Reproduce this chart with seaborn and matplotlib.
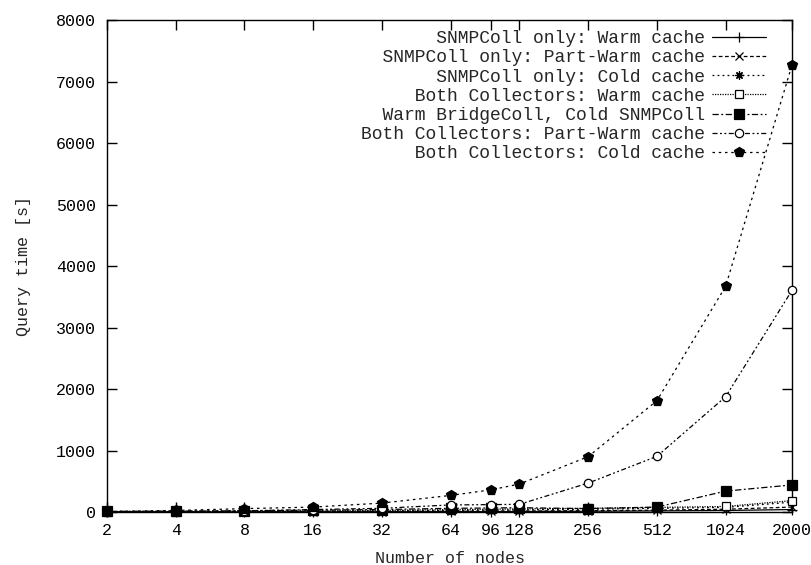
import matplotlib
matplotlib.use("Agg")
import matplotlib.pyplot as plt
import seaborn as sns
import numpy as np
import pandas as pd

nodes = [2, 4, 8, 16, 32, 64, 96, 128, 256, 512, 1024, 2000]
tick_labels = ["2", "4", "8", "16", "32", "64", "96", "128", "256", "512", "1024", "2000"]

snmp_warm = [1, 1, 2, 3, 4, 6, 7, 8, 12, 18, 25, 40]
snmp_part_warm = [2, 3, 4, 6, 8, 12, 14, 16, 22, 30, 45, 80]
snmp_cold = [3, 5, 8, 12, 18, 25, 30, 35, 45, 60, 75, 160]
both_warm = [4, 6, 10, 15, 25, 40, 45, 50, 60, 75, 90, 185]
warm_bridge_cold_snmp = [10, 15, 20, 30, 40, 60, 65, 70, 55, 80, 340, 440]
both_part_warm = [5, 10, 20, 40, 60, 115, 120, 125, 470, 905, 1875, 3605]
both_cold = [10, 25, 55, 80, 145, 270, 360, 455, 900, 1810, 3670, 7270]

labels = [
    "SNMPColl only: Warm cache",
    "SNMPColl only: Part-Warm cache",
    "SNMPColl only: Cold cache",
    "Both Collectors: Warm cache",
    "Warm BridgeColl, Cold SNMPColl",
    "Both Collectors: Part-Warm cache",
    "Both Collectors: Cold cache",
]
series = [snmp_warm, snmp_part_warm, snmp_cold, both_warm,
          warm_bridge_cold_snmp, both_part_warm, both_cold]

styles = [
    dict(ls="-", marker="+", ms=7, mfc="black"),
    dict(ls=(0, (3, 2)), marker="x", ms=6, mfc="black"),
    dict(ls=(0, (1.5, 2.5)), marker=(8, 2, 0), ms=6, mfc="black"),
    dict(ls=(0, (1, 1)), marker="s", ms=6, mfc="white"),
    dict(ls=(0, (5, 2, 1.5, 2)), marker="s", ms=6.5, mfc="black"),
    dict(ls=(0, (4, 2, 1.5, 2, 1.5, 2)), marker="o", ms=6, mfc="white"),
    dict(ls=(0, (2, 3)), marker="p", ms=7, mfc="black"),
]

sns.set_theme(style="ticks")
plt.rcParams["font.family"] = ["Liberation Mono", "DejaVu Sans Mono"]

fig = plt.figure(figsize=(8.12, 5.65), dpi=100)
ax = fig.add_axes([0.1318, 0.0938, 0.8436, 0.8708])

maxlen = max(len(l) for l in labels)
for lab, vals, st in zip(labels, series, styles):
    df = pd.DataFrame({"nodes": nodes, "time": vals})
    padded = " " * (maxlen - len(lab)) + lab
    sns.lineplot(data=df, x="nodes", y="time", ax=ax, color="black",
                 linestyle=st["ls"], marker=st["marker"], markersize=st["ms"],
                 markerfacecolor=st["mfc"], markeredgecolor="black",
                 markeredgewidth=0.9, linewidth=0.9, label=padded,
                 clip_on=False, zorder=3)

ax.set_xscale("log", base=2)
ax.set_xlim(2, 2000)
ax.set_ylim(0, 8000)
ax.set_xticks(nodes)
ax.set_xticklabels(tick_labels)
ax.xaxis.set_minor_locator(matplotlib.ticker.NullLocator())
ax.set_yticks(np.arange(0, 8001, 1000))
ax.tick_params(axis="both", which="major", direction="in", length=7, width=1,
               top=True, right=True, labelsize=12, colors="black", pad=8)
for s in ax.spines.values():
    s.set_color("black")
    s.set_linewidth(1.0)

ax.set_xlabel("Number of nodes", fontsize=12, labelpad=9)
ax.set_ylabel("Query time [s]", fontsize=12, labelpad=18)

leg = ax.legend(loc="upper right", frameon=False, markerfirst=False,
                fontsize=13, labelspacing=0.12, handlelength=3.0,
                handletextpad=0.35, borderaxespad=0.3,
                bbox_to_anchor=(0.98, 1.005))

fig.savefig("out.png", dpi=100)
